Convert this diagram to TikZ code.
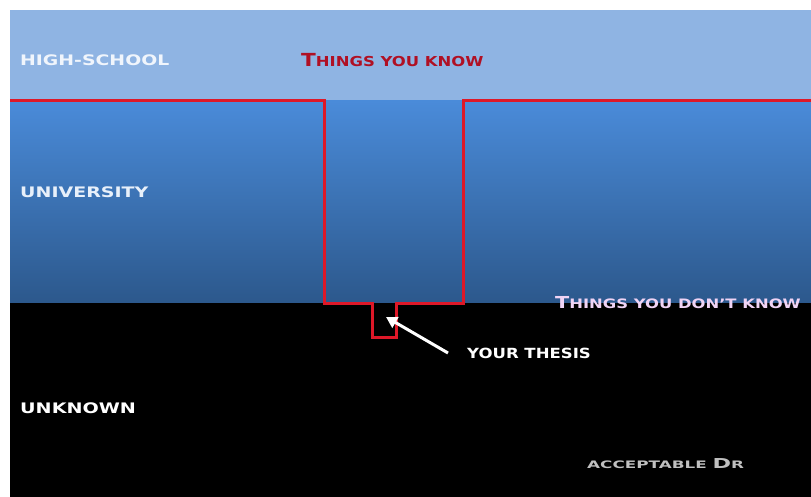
\documentclass[tikz,border=0pt]{standalone}
\usepackage{fontspec}
\usepackage{graphicx}
\setmainfont{DejaVu Sans}
\usetikzlibrary{arrows.meta}
% big initial + small caps, stretched sideways like the slide font
\newcommand{\capsc}[4]{{\fontsize{#3}{#3}\selectfont #1}{\fontsize{#4}{#4}\selectfont #2}}
\newcommand{\wide}[2]{\scalebox{#1}[1]{#2}}

\begin{document}
\begin{tikzpicture}[x=1pt,y=-1pt,lbl/.style={anchor=west,inner sep=0pt,font=\bfseries\fontsize{14.5}{14.5}\selectfont}]
\useasboundingbox (0,0) rectangle (811,497);
\fill[white] (0,0) rectangle (811,497);
\fill[fill={rgb,255:red,143;green,180;blue,227}] (10,10) rectangle (811,101);
\shade[top color={rgb,255:red,74;green,139;blue,217},bottom color={rgb,255:red,44;green,88;blue,140}] (10,101) rectangle (811,303);
\fill[black] (10,303) rectangle (811,497);
\draw[line width=3pt,color={rgb,255:red,222;green,24;blue,40}] (10,101) -- (324,101) -- (324,303) -- (372,303) -- (372,337) -- (396,337) -- (396,303) -- (463,303) -- (463,101) -- (811,101);
\node[lbl,text={rgb,255:red,240;green,245;blue,252}] (highschool) at (20,60) {\wide{1.3}{HIGH-SCHOOL}};
\node[lbl,text={rgb,255:red,176;green,16;blue,36}] (know) at (301,60) {\wide{1.2}{\capsc{T}{HINGS YOU KNOW}{18}{13.7}}};
\node[lbl,text={rgb,255:red,232;green,240;blue,250}] (university) at (20,192) {\wide{1.31}{UNIVERSITY}};
\node[lbl,text={rgb,255:red,240;green,212;blue,245}] (dontknow) at (555,303) {\wide{1.26}{\capsc{T}{HINGS YOU DON’T KNOW}{16.5}{13}}};
\node[lbl,text=white] (thesis) at (467,353) {\wide{1.18}{\fontsize{14}{14}\selectfont YOUR THESIS}};
\node[lbl,text=white] (unknown) at (20,408) {\wide{1.32}{UNKNOWN}};
\node[lbl,text={rgb,255:red,192;green,192;blue,192}] (dr) at (587,464) {\wide{1.63}{\capsc{}{ACCEPTABLE }{13.7}{10.3}\capsc{D}{R}{13.7}{10.3}}};
\coordinate (notch) at (386,317);
\draw[-{Triangle[length=11pt,width=12pt]},line width=3pt,white] ([xshift=-19pt]thesis.west) -- (notch);
\end{tikzpicture}
\end{document}
